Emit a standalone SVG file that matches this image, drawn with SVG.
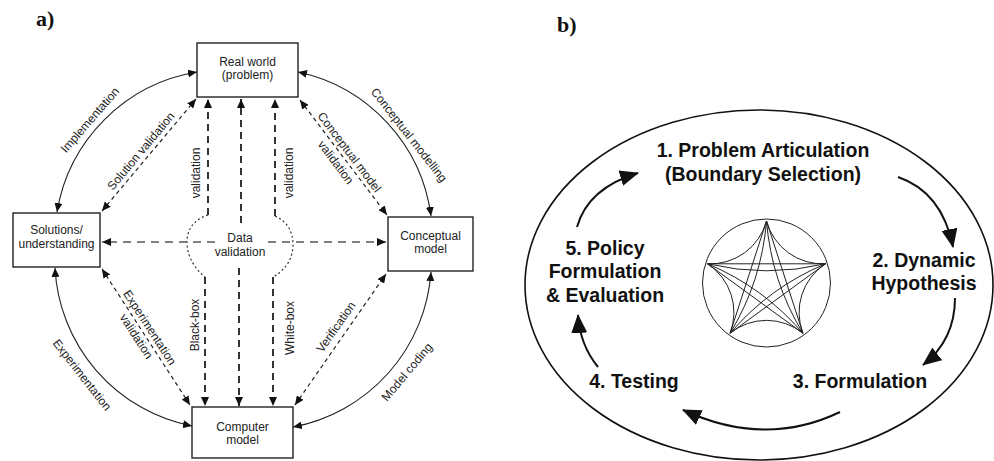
<svg xmlns="http://www.w3.org/2000/svg" width="994" height="461" viewBox="0 0 994 461">
<style>
.box{fill:#fff;stroke:#222;stroke-width:1.4}
.lbl{font-family:"Liberation Sans",Arial,sans-serif;font-size:12px;fill:#222}
.c{text-anchor:middle}
.arc{fill:none;stroke:#222;stroke-width:1.1}
.dv{fill:none;stroke:#111;stroke-width:1.7;stroke-dasharray:7 5}
.dd{fill:none;stroke:#222;stroke-width:1.2;stroke-dasharray:4 3.5}
.dot{fill:none;stroke:#222;stroke-width:1.1;stroke-dasharray:2 2.5}
.dh{fill:none;stroke:#555;stroke-width:1.3;stroke-dasharray:8 6}
.big{font-family:"Liberation Sans",Arial,sans-serif;font-size:19.5px;font-weight:bold;fill:#111;text-anchor:middle}
.ttl{font-family:"Liberation Serif","Times New Roman",serif;font-size:22px;font-weight:bold;fill:#111}
.flow{fill:none;stroke:#111;stroke-width:2}
.thin{fill:none;stroke:#222;stroke-width:1}
</style>
<defs>
<marker id="ah" markerWidth="9" markerHeight="8" refX="9" refY="4" markerUnits="userSpaceOnUse" orient="auto-start-reverse"><path d="M0,0 L9,4 L0,8 z" fill="#111"/></marker>
<marker id="bh" markerWidth="19" markerHeight="16" refX="18" refY="8" markerUnits="userSpaceOnUse" orient="auto"><path d="M0,0 L19,8 L0,16 z" fill="#111"/></marker>
</defs>
<rect width="994" height="461" fill="#fff"/>

<!-- Panel a -->
<text class="ttl" x="36" y="26">a)</text>

<g id="connectors-a">
  <!-- arcs -->
  <path class="arc" d="M197,72 A170,170 0 0 0 57,212" marker-start="url(#ah)" marker-end="url(#ah)"/>
  <path class="arc" d="M298,72 A170,170 0 0 1 431,216" marker-start="url(#ah)" marker-end="url(#ah)"/>
  <path class="arc" d="M55,268 A170,170 0 0 0 192,426" marker-start="url(#ah)" marker-end="url(#ah)"/>
  <path class="arc" d="M431,272 A170,170 0 0 1 293,427" marker-start="url(#ah)" marker-end="url(#ah)"/>
  <!-- diagonal dashed -->
  <path class="dd" d="M102,211 L196,99" marker-start="url(#ah)" marker-end="url(#ah)"/>
  <path class="dd" d="M300,100 L387,215" marker-start="url(#ah)" marker-end="url(#ah)"/>
  <path class="dd" d="M102,269 L190,405" marker-start="url(#ah)" marker-end="url(#ah)"/>
  <path class="dd" d="M295,405 L386,274" marker-start="url(#ah)" marker-end="url(#ah)"/>
  <!-- vertical dashed -->
  <path class="dv" d="M208,215 L208,99" marker-end="url(#ah)"/>
  <path class="dv" d="M241,223 L241,99" marker-end="url(#ah)"/>
  <path class="dv" d="M275,216 L275,99" marker-end="url(#ah)"/>
  <path class="dv" d="M205,277 L205,406" marker-end="url(#ah)"/>
  <path class="dv" d="M239,268 L239,406" marker-end="url(#ah)"/>
  <path class="dv" d="M273,277 L273,406" marker-end="url(#ah)"/>
  <!-- data validation outline -->
  <path class="dot" d="M208,215 C192,220 186,232 187,245 C188,258 196,270 205,277"/>
  <path class="dot" d="M275,216 C288,222 293,232 293,245 C293,258 286,270 273,277"/>
  <!-- horizontal dashed -->
  <path class="dh" d="M215,242 L102,242" marker-end="url(#ah)"/>
  <path class="dh" d="M268,242 L386,242" marker-end="url(#ah)"/>
</g>

<g id="labels-a">
  <text class="lbl c" transform="translate(90,120) rotate(-49)" y="4">Implementation</text>
  <text class="lbl c" transform="translate(141,151) rotate(-50)" y="4">Solution validation</text>
  <text class="lbl c" transform="translate(409,135) rotate(52)" y="4">Conceptual modelling</text>
  <g transform="translate(343,157) rotate(53)">
    <text class="lbl c" y="-4">Conceptual model</text>
    <text class="lbl c" y="13">validation</text>
  </g>
  <text class="lbl c" transform="translate(82,375) rotate(52)" y="4">Experimentation</text>
  <g transform="translate(143,332) rotate(57)">
    <text class="lbl c" y="-4">Experimentation</text>
    <text class="lbl c" y="12">validation</text>
  </g>
  <text class="lbl c" transform="translate(336,327) rotate(-55)" y="4">Verification</text>
  <text class="lbl c" transform="translate(407,372) rotate(-50)" y="4">Model coding</text>
  <text class="lbl c" transform="translate(196,173) rotate(-90)" y="4">validation</text>
  <text class="lbl c" transform="translate(289,173) rotate(-90)" y="4">validation</text>
  <text class="lbl c" transform="translate(195,325) rotate(-90)" y="4">Black-box</text>
  <text class="lbl c" transform="translate(290,328) rotate(-90)" y="4">White-box</text>
</g>

<g id="data-validation">
  <text class="lbl c" x="240" y="242">Data</text>
  <text class="lbl c" x="240" y="256">validation</text>
</g>

<g id="real-world">
  <rect class="box" x="197" y="43" width="101" height="54"/>
  <text class="lbl c" x="247.5" y="66">Real world</text>
  <text class="lbl c" x="247.5" y="79">(problem)</text>
</g>
<g id="solutions">
  <rect class="box" x="13" y="213" width="87" height="54"/>
  <text class="lbl c" x="56.5" y="234">Solutions/</text>
  <text class="lbl c" x="56.5" y="248">understanding</text>
</g>
<g id="conceptual-model">
  <rect class="box" x="388" y="217" width="85" height="54"/>
  <text class="lbl c" x="430.5" y="240">Conceptual</text>
  <text class="lbl c" x="430.5" y="253">model</text>
</g>
<g id="computer-model">
  <rect class="box" x="192" y="407" width="101" height="51"/>
  <text class="lbl c" x="242.5" y="431">Computer</text>
  <text class="lbl c" x="242.5" y="444">model</text>
</g>

<!-- Panel b -->
<text class="ttl" x="557" y="32">b)</text>
<ellipse cx="759" cy="285" rx="234" ry="175" fill="none" stroke="#111" stroke-width="1.6"/>

<g id="emblem">
  <circle class="thin" cx="766.5" cy="283" r="64"/>
  <path class="thin" d="M766.5,221 L802.9,333.2 L707.5,263.8 L825.5,263.8 L730.1,333.2 Z"/>
  <path class="thin" d="M766.5,221 Q771.4,281.4 802.9,333.2 M802.9,333.2 Q763.4,287.2 707.5,263.8 M707.5,263.8 Q766.5,277.8 825.5,263.8 M825.5,263.8 Q769.6,287.2 730.1,333.2 M730.1,333.2 Q761.6,281.4 766.5,221"/>
  <path class="thin" d="M766.5,221 A58,58 0 0 0 825.5,263.8 A58,58 0 0 0 802.9,333.2 A58,58 0 0 0 730.1,333.2 A58,58 0 0 0 707.5,263.8 A58,58 0 0 0 766.5,221 Z"/>
</g>

<g id="step1">
  <text class="big" x="763" y="157">1. Problem Articulation</text>
  <text class="big" x="763" y="181">(Boundary Selection)</text>
</g>
<g id="step2">
  <text class="big" x="924" y="267">2. Dynamic</text>
  <text class="big" x="924" y="290">Hypothesis</text>
</g>
<g id="step3">
  <text class="big" x="860" y="388">3. Formulation</text>
</g>
<g id="step4">
  <text class="big" x="634" y="388">4. Testing</text>
</g>
<g id="step5">
  <text class="big" x="605" y="255">5. Policy</text>
  <text class="big" x="605" y="278">Formulation</text>
  <text class="big" x="605" y="302">&amp; Evaluation</text>
</g>

<g id="connectors-b">
  <path class="flow" d="M577,227 Q588,188 638,173" marker-end="url(#bh)"/>
  <path class="flow" d="M898,177 Q942,192 953,247" marker-end="url(#bh)"/>
  <path class="flow" d="M955,298 Q955,340 923,365" marker-end="url(#bh)"/>
  <path class="flow" d="M840,412 Q765,448 683,410" marker-end="url(#bh)"/>
  <path class="flow" d="M598,367 Q580,345 578,315" marker-end="url(#bh)"/>
</g>
</svg>
